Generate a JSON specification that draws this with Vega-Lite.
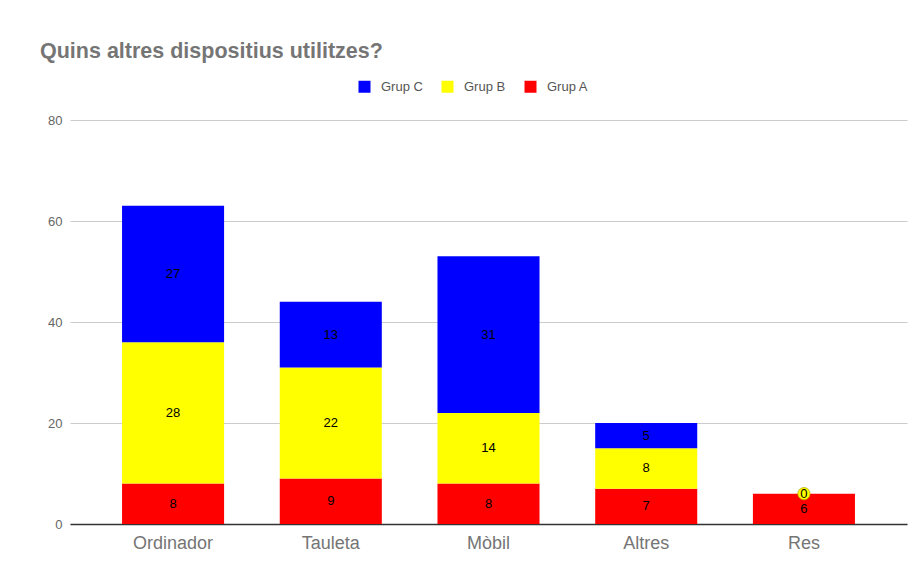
{
  "$schema": "https://vega.github.io/schema/vega-lite/v6.json",
  "width": 837,
  "height": 404,
  "autosize": {"type": "none"},
  "padding": {"left": 70, "top": 120, "right": 17, "bottom": 54},
  "background": "#ffffff",
  "config": {"view": {"stroke": null}},
  "title": {
    "text": "Quins altres dispositius utilitzes?",
    "anchor": "start",
    "frame": "group",
    "dx": -30,
    "offset": 18,
    "fontSize": 21.5,
    "fontWeight": "bold",
    "color": "#757575",
    "font": "Liberation Sans"
  },
  "data": {
    "values": [
      {"device": "Ordinador", "group": "Grup A", "value": 8},
      {"device": "Ordinador", "group": "Grup B", "value": 28},
      {"device": "Ordinador", "group": "Grup C", "value": 27},
      {"device": "Tauleta", "group": "Grup A", "value": 9},
      {"device": "Tauleta", "group": "Grup B", "value": 22},
      {"device": "Tauleta", "group": "Grup C", "value": 13},
      {"device": "Mòbil", "group": "Grup A", "value": 8},
      {"device": "Mòbil", "group": "Grup B", "value": 14},
      {"device": "Mòbil", "group": "Grup C", "value": 31},
      {"device": "Altres", "group": "Grup A", "value": 7},
      {"device": "Altres", "group": "Grup B", "value": 8},
      {"device": "Altres", "group": "Grup C", "value": 5},
      {"device": "Res", "group": "Grup A", "value": 6},
      {"device": "Res", "group": "Grup B", "value": 0}
    ]
  },
  "encoding": {
    "x": {
      "field": "device",
      "type": "nominal",
      "sort": null,
      "scale": {"paddingInner": 0.353, "paddingOuter": 0.33},
      "axis": {
        "title": null,
        "labelAngle": 0,
        "labelFontSize": 18,
        "labelColor": "#757575",
        "labelFont": "Liberation Sans",
        "labelPadding": 10,
        "ticks": false,
        "domainColor": "#333333",
        "domainWidth": 1.5,
        "grid": false
      }
    },
    "y": {
      "field": "value",
      "type": "quantitative",
      "stack": "zero",
      "scale": {"domain": [0, 80], "nice": false},
      "axis": {
        "title": null,
        "values": [0, 20, 40, 60, 80],
        "labelFontSize": 13,
        "labelColor": "#666666",
        "labelFont": "Liberation Sans",
        "labelPadding": 8,
        "ticks": false,
        "domain": false,
        "gridColor": "#cccccc",
        "gridWidth": 1
      }
    },
    "order": {"field": "group", "sort": "ascending"}
  },
  "layer": [
    {
      "mark": {"type": "bar"},
      "encoding": {
        "color": {
          "field": "group",
          "type": "nominal",
          "scale": {
            "domain": ["Grup C", "Grup B", "Grup A"],
            "range": ["#0000ff", "#ffff00", "#ff0000"]
          },
          "legend": {
            "title": null,
            "orient": "none",
            "direction": "horizontal",
            "legendX": 288,
            "legendY": -40,
            "symbolType": "square",
            "symbolSize": 144,
            "symbolStrokeWidth": 0,
            "labelFontSize": 13,
            "labelColor": "#555555",
            "labelFont": "Liberation Sans",
            "columnPadding": 18,
            "labelOffset": 10
          }
        }
      }
    },
    {
      "transform": [
        {"stack": "value", "groupby": ["device"], "sort": [{"field": "group", "order": "ascending"}], "as": ["v0", "v1"]},
        {"filter": "datum.value == 0"}
      ],
      "mark": {"type": "point", "filled": true, "color": "#ffff00", "size": 150, "stroke": "#b8a800", "strokeWidth": 0.8, "opacity": 1},
      "encoding": {
        "y": {"field": "v0", "type": "quantitative", "stack": null},
        "order": null
      }
    },
    {
      "mark": {"type": "text", "fontSize": 13, "color": "#000000", "font": "Liberation Sans", "baseline": "middle"},
      "encoding": {
        "y": {"field": "value", "type": "quantitative", "stack": "zero", "bandPosition": 0.5},
        "text": {"field": "value", "type": "quantitative"}
      }
    }
  ]
}
